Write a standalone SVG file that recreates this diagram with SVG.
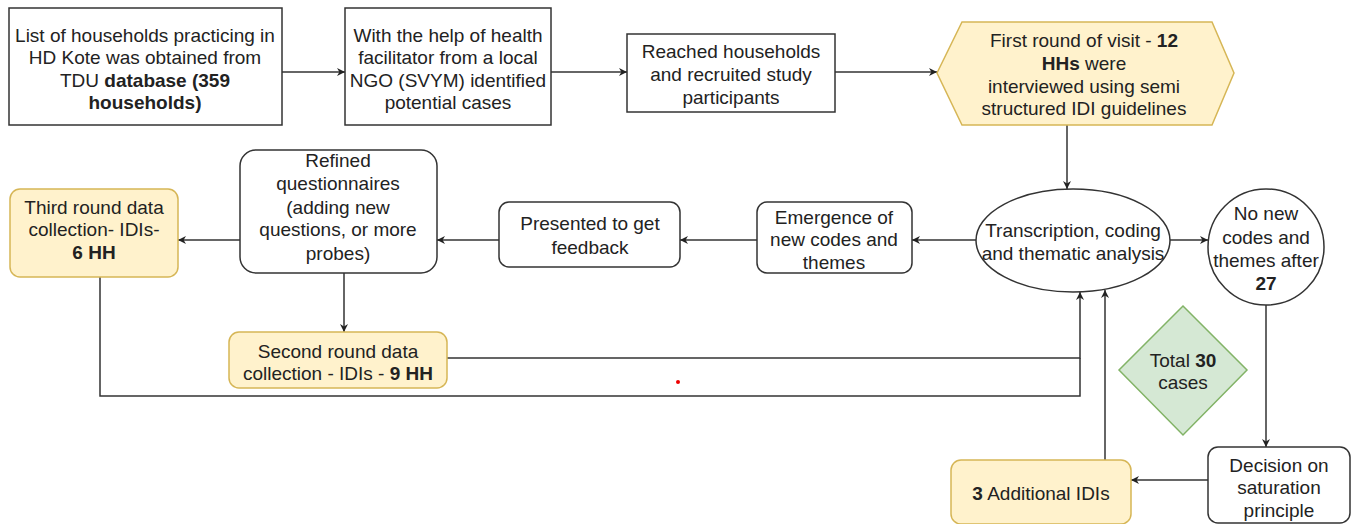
<svg xmlns="http://www.w3.org/2000/svg" width="1355" height="524" viewBox="0 0 1355 524">
<style>
text{font-family:"Liberation Sans",Arial,sans-serif;font-size:19px;fill:#222;text-anchor:middle;dominant-baseline:central}
.b{font-weight:bold}
.n{fill:#fff;stroke:#333;stroke-width:1.5}
.y{fill:#fff2cc;stroke:#d6b656;stroke-width:1.5}
.g{fill:#d5e8d4;stroke:#82b366;stroke-width:1.5}
.c{fill:none;stroke:#333;stroke-width:1.5}
</style>
<defs>
<marker id="ar" viewBox="0 0 10 10" refX="10" refY="5" markerWidth="8" markerHeight="8" markerUnits="userSpaceOnUse" orient="auto">
<path d="M0,0 L10,5 L0,10 L3,5 z" fill="#222"/>
</marker>
</defs>
<rect width="1355" height="524" fill="#fff"/>
<g id="connectors">
<path class="c" d="M282,72 H345" marker-end="url(#ar)"/>
<path class="c" d="M551,72 H627" marker-end="url(#ar)"/>
<path class="c" d="M835,72 H937" marker-end="url(#ar)"/>
<path class="c" d="M1067,125 V189" marker-end="url(#ar)"/>
<path class="c" d="M1170,240 H1208" marker-end="url(#ar)"/>
<path class="c" d="M976,240 H912" marker-end="url(#ar)"/>
<path class="c" d="M757,240 H680" marker-end="url(#ar)"/>
<path class="c" d="M499,240 H437" marker-end="url(#ar)"/>
<path class="c" d="M240,240 H178" marker-end="url(#ar)"/>
<path class="c" d="M344,273 V332" marker-end="url(#ar)"/>
<path class="c" d="M447,358 H1080 V292" marker-end="url(#ar)"/>
<path class="c" d="M100,277 V396 H1080 V358"/>
<path class="c" d="M1105,460 V290" marker-end="url(#ar)"/>
<path class="c" d="M1266,305 V447" marker-end="url(#ar)"/>
<path class="c" d="M1208,480 H1131" marker-end="url(#ar)"/>
</g>
<g id="n1">
<rect class="n" x="9" y="8" width="273" height="117"/>
<text x="145" y="35">List of households practicing in</text>
<text x="145" y="57">HD Kote was obtained from</text>
<text x="145" y="80">TDU <tspan class="b">database (359</tspan></text>
<text x="145" y="102" class="b">households)</text>
</g>
<g id="n2">
<rect class="n" x="345" y="8" width="206" height="117"/>
<text x="448" y="35">With the help of health</text>
<text x="448" y="57">facilitator from a local</text>
<text x="448" y="80">NGO (SVYM) identified</text>
<text x="448" y="102">potential cases</text>
</g>
<g id="n3">
<rect class="n" x="627" y="34" width="208" height="78"/>
<text x="731" y="51">Reached households</text>
<text x="731" y="74">and recruited study</text>
<text x="731" y="97">participants</text>
</g>
<g id="n4">
<polygon class="y" points="937,73 962,22 1212,22 1234,73 1212,125 962,125"/>
<text x="1084" y="40">First round of visit - <tspan class="b">12</tspan></text>
<text x="1084" y="63"><tspan class="b">HHs</tspan> were</text>
<text x="1084" y="86">interviewed using semi</text>
<text x="1084" y="108">structured IDI guidelines</text>
</g>
<g id="n5">
<ellipse class="n" cx="1073" cy="240.5" rx="97" ry="51.5"/>
<text x="1073" y="230">Transcription, coding</text>
<text x="1073" y="253">and thematic analysis</text>
</g>
<g id="n6">
<circle class="n" cx="1266" cy="247" r="58"/>
<text x="1266" y="213">No new</text>
<text x="1266" y="237">codes and</text>
<text x="1266" y="260">themes after</text>
<text x="1266" y="283" class="b">27</text>
</g>
<g id="n7">
<rect class="n" x="757" y="202" width="155" height="71" rx="10"/>
<text x="834" y="217">Emergence of</text>
<text x="834" y="239">new codes and</text>
<text x="834" y="262">themes</text>
</g>
<g id="n8">
<rect class="n" x="499" y="202" width="181" height="65" rx="10"/>
<text x="590" y="223">Presented to get</text>
<text x="590" y="247">feedback</text>
</g>
<g id="n9">
<rect class="n" x="240" y="150" width="197" height="123" rx="16"/>
<text x="338" y="160">Refined</text>
<text x="338" y="183">questionnaires</text>
<text x="338" y="207">(adding new</text>
<text x="338" y="229">questions, or more</text>
<text x="338" y="253">probes)</text>
</g>
<g id="n10">
<rect class="y" x="10" y="189" width="168" height="88" rx="10"/>
<text x="94" y="207">Third round data</text>
<text x="94" y="229">collection- IDIs-</text>
<text x="94" y="252" class="b">6 HH</text>
</g>
<g id="n11">
<rect class="y" x="229" y="332" width="218" height="56" rx="10"/>
<text x="338" y="351">Second round data</text>
<text x="338" y="373">collection - IDIs - <tspan class="b">9 HH</tspan></text>
</g>
<g id="n12">
<polygon class="g" points="1183,306 1247,370 1183,435 1119,370"/>
<text x="1183" y="360">Total <tspan class="b">30</tspan></text>
<text x="1183" y="382">cases</text>
</g>
<g id="n13">
<rect class="y" x="951" y="460" width="180" height="64" rx="10"/>
<text x="1041" y="493"><tspan class="b">3</tspan> Additional IDIs</text>
</g>
<g id="n14">
<rect class="n" x="1208" y="447" width="142" height="76" rx="10"/>
<text x="1279" y="465">Decision on</text>
<text x="1279" y="487">saturation</text>
<text x="1279" y="510">principle</text>
</g>
<circle cx="678" cy="382" r="2" fill="#e00"/>
</svg>
